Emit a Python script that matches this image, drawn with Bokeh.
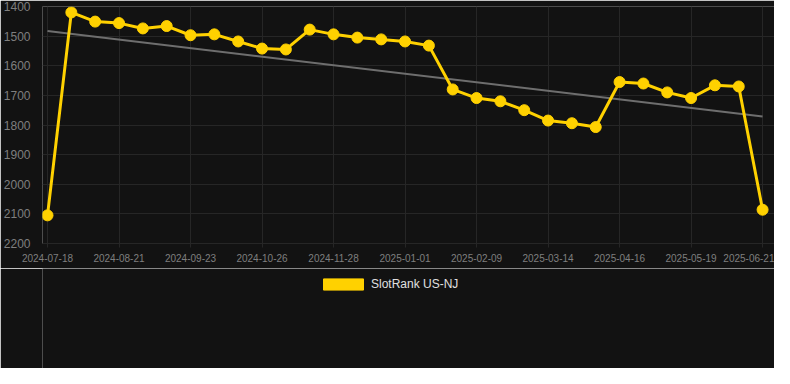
from bokeh.plotting import figure
from bokeh.layouts import gridplot
from bokeh.models import Range1d, FixedTicker, Legend, LegendItem
from bokeh.embed import file_html
from bokeh.resources import INLINE

# Data
ranks = [2105, 1420, 1451, 1456, 1474, 1466, 1497, 1494, 1518, 1542, 1545,
         1478, 1494, 1505, 1511, 1518, 1532, 1680, 1709, 1720, 1750, 1785,
         1794, 1807, 1655, 1660, 1690, 1709, 1666, 1670, 2086]
tick_labels = ["2024-07-18", "2024-08-21", "2024-09-23", "2024-10-26", "2024-11-28",
               "2025-01-01", "2025-02-09", "2025-03-14", "2025-04-16", "2025-05-19",
               "2025-06-21"]
trend_values = [1483, 1771]
series_name = "SlotRank US-NJ"
y_ticks = [1400, 1500, 1600, 1700, 1800, 1900, 2000, 2100, 2200]

xs = list(range(len(ranks)))
step = (len(ranks) - 1) // (len(tick_labels) - 1)
tick_pos = [i * step for i in range(len(tick_labels))]

BG = "#121212"
GOLD = "#FFD100"

p = figure(width=774, height=268, output_backend="svg", toolbar_location=None,
           x_range=Range1d(-0.21, 30.50), y_range=Range1d(2200, 1400),
           min_border_left=40, min_border_right=0, min_border_top=6, min_border_bottom=25)
p.background_fill_color = BG
p.border_fill_color = BG
p.outline_line_color = None

p.xgrid.ticker = FixedTicker(ticks=tick_pos)
p.xaxis.ticker = FixedTicker(ticks=tick_pos)
p.xaxis.major_label_overrides = {t: l for t, l in zip(tick_pos, tick_labels)}
p.yaxis.ticker = FixedTicker(ticks=y_ticks)
for g in (p.xgrid, p.ygrid):
    g.grid_line_color = "#262626"
    g.grid_line_width = 1

p.xaxis.axis_line_color = "#262626"
p.xaxis.major_tick_line_color = "#262626"
p.xaxis.major_tick_out = 4
p.xaxis.major_tick_in = 0
p.xaxis.minor_tick_line_color = None
p.xaxis.major_label_text_font = "Liberation Sans"
p.xaxis.major_label_text_font_size = "10px"
p.xaxis.major_label_text_color = "#7f7f7f"
p.xaxis.major_label_standoff = 6

p.yaxis.axis_line_color = None
p.yaxis.major_tick_line_color = None
p.yaxis.minor_tick_line_color = None
p.yaxis.major_label_text_font = "Liberation Sans"
p.yaxis.major_label_text_font_size = "12px"
p.yaxis.major_label_text_color = "#7f7f7f"
p.yaxis.major_label_standoff = 6

# trend line
p.line([xs[0], xs[-1]], trend_values, line_color="#6e6e6e", line_width=2)

# series
p.line(xs, ranks, line_color=GOLD, line_width=3)
p.scatter(xs, ranks, size=11, fill_color=GOLD, line_color=GOLD)

# legend strip below the chart
lf = figure(frame_width=774, frame_height=100, output_backend="svg", toolbar_location=None,
            x_axis_type=None, y_axis_type=None,
            x_range=Range1d(0, 1), y_range=Range1d(0, 1),
            min_border=0, min_border_left=0, min_border_right=0,
            min_border_top=0, min_border_bottom=0)
lf.background_fill_color = BG
lf.border_fill_color = BG
lf.outline_line_color = None
lf.grid.visible = False
lf.axis.visible = False
# swatch renderer placed off-screen, used only for the legend glyph
leg_r = lf.quad(left=[-3], right=[-2], top=[-2], bottom=[-3], fill_color=GOLD, line_color=GOLD)
legend = Legend(items=[LegendItem(label=series_name, renderers=[leg_r])],
                location=(318, 77), orientation="horizontal",
                glyph_width=50, glyph_height=14, label_standoff=3,
                label_text_font="Liberation Sans", label_text_font_size="12px",
                label_text_color="#e0e0e0", padding=0, margin=0,
                border_line_alpha=0, background_fill_alpha=0)
lf.add_layout(legend, "center")

layout = gridplot([[p], [lf]], toolbar_location=None)
open("out.html", "w").write(file_html(layout, INLINE))
